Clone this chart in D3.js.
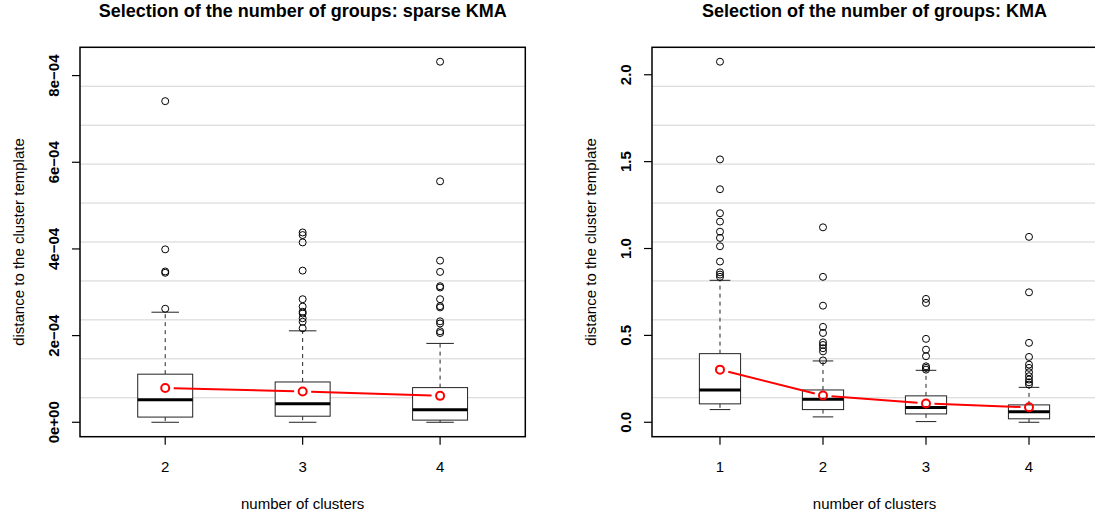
<!DOCTYPE html>
<html>
<head>
<meta charset="utf-8">
<script src="https://cdn.jsdelivr.net/npm/d3@7"></script>
<style>
  body { margin: 0; background: #fff; }
  svg { font-family: "Liberation Sans", Arial, sans-serif; }
</style>
</head>
<body>
<svg id="chart" width="1095" height="519"></svg>
<script>
// ---- data: sparse KMA (left panel) ----
const sparseGroups = ["2", "3", "4"];
const sparseLow    = [0, 0, 0];
const sparseQ1     = [1.2e-5, 1.4e-5, 5e-6];
const sparseMedian = [5.2e-5, 4.3e-5, 2.9e-5];
const sparseQ3     = [1.11e-4, 9.3e-5, 8.0e-5];
const sparseHigh   = [2.54e-4, 2.11e-4, 1.82e-4];
const sparseMean   = [7.9e-5, 7.1e-5, 6.1e-5];
const sparseOut = [
  [2.62e-4, 3.45e-4, 3.48e-4, 3.99e-4, 7.41e-4],
  [2.17e-4, 2.32e-4, 2.40e-4, 2.51e-4, 2.55e-4, 2.67e-4, 2.84e-4, 3.50e-4, 4.15e-4, 4.32e-4, 4.38e-4],
  [2.06e-4, 2.10e-4, 2.28e-4, 2.33e-4, 2.65e-4, 2.68e-4, 2.84e-4, 3.11e-4, 3.14e-4, 3.47e-4, 3.73e-4, 5.56e-4, 8.32e-4]
];
const sparseTicks  = [0, 2e-4, 4e-4, 6e-4, 8e-4];
const sparseLabels = ["0e+00", "2e\u221204", "4e\u221204", "6e\u221204", "8e\u221204"];

// ---- data: KMA (right panel) ----
const kmaGroups = ["1", "2", "3", "4"];
const kmaLow    = [0.073, 0.031, 0.004, 0.0];
const kmaQ1     = [0.106, 0.073, 0.048, 0.020];
const kmaMedian = [0.186, 0.132, 0.085, 0.060];
const kmaQ3     = [0.395, 0.186, 0.152, 0.100];
const kmaHigh   = [0.817, 0.353, 0.299, 0.201];
const kmaMean   = [0.303, 0.154, 0.108, 0.086];
const kmaOut = [
  [0.837, 0.850, 0.863, 0.925, 1.013, 1.061, 1.097, 1.155, 1.203, 1.341, 1.513, 2.075],
  [0.356, 0.408, 0.426, 0.445, 0.460, 0.514, 0.549, 0.671, 0.837, 1.122],
  [0.303, 0.313, 0.322, 0.380, 0.418, 0.480, 0.687, 0.710],
  [0.217, 0.230, 0.246, 0.265, 0.288, 0.313, 0.332, 0.376, 0.457, 0.748, 1.067]
];
const kmaTicks  = [0, 0.5, 1.0, 1.5, 2.0];
const kmaLabels = ["0.0", "0.5", "1.0", "1.5", "2.0"];

const svg = d3.select("#chart");
const TOP = 47.3, BOTTOM = 436.7;

function drawPanel(opts) {
  const n = opts.groups.length;
  const g = svg.append("g");

  // R-style 4% axis expansion on both ends
  const x = d3.scaleLinear()
    .domain([0.5 - 0.04 * n, n + 0.5 + 0.04 * n])
    .range([opts.left, opts.right]);
  const allVals = opts.low.concat(opts.high, opts.out.flat());
  const lo = d3.min(allVals), hi = d3.max(allVals);
  const pad = (hi - lo) * 0.04;
  const y = d3.scaleLinear().domain([lo - pad, hi + pad]).range([BOTTOM, TOP]);

  // grid: 10 equal divisions of the plot height
  const gridYs = d3.range(1, 10).map(i => TOP + (BOTTOM - TOP) * i / 10);
  g.selectAll("line.grid").data(gridYs).join("line")
    .attr("class", "grid")
    .attr("x1", opts.left).attr("x2", opts.right)
    .attr("y1", d => d).attr("y2", d => d)
    .attr("stroke", "#d3d3d3").attr("stroke-width", 1);

  const idx = d3.range(n);
  const bw = 0.2;    // box half width in x units
  const cw = 0.1;    // whisker cap half width

  // whiskers (dashed)
  g.selectAll("line.wup").data(idx).join("line")
    .attr("x1", i => x(i + 1)).attr("x2", i => x(i + 1))
    .attr("y1", i => y(opts.q3[i])).attr("y2", i => y(opts.high[i]))
    .attr("stroke", "#222").attr("stroke-dasharray", "4,4");
  g.selectAll("line.wdn").data(idx).join("line")
    .attr("x1", i => x(i + 1)).attr("x2", i => x(i + 1))
    .attr("y1", i => y(opts.q1[i])).attr("y2", i => y(opts.low[i]))
    .attr("stroke", "#222").attr("stroke-dasharray", "4,4");

  // caps
  ["high", "low"].forEach(k => {
    g.selectAll("line.cap" + k).data(idx).join("line")
      .attr("x1", i => x(i + 1 - cw)).attr("x2", i => x(i + 1 + cw))
      .attr("y1", i => y(opts[k][i])).attr("y2", i => y(opts[k][i]))
      .attr("stroke", "#222");
  });

  // boxes
  g.selectAll("rect.box").data(idx).join("rect")
    .attr("x", i => x(i + 1 - bw))
    .attr("width", i => x(i + 1 + bw) - x(i + 1 - bw))
    .attr("y", i => y(opts.q3[i]))
    .attr("height", i => y(opts.q1[i]) - y(opts.q3[i]))
    .attr("fill", "white").attr("stroke", "#222");

  // medians
  g.selectAll("line.med").data(idx).join("line")
    .attr("x1", i => x(i + 1 - bw)).attr("x2", i => x(i + 1 + bw))
    .attr("y1", i => y(opts.median[i])).attr("y2", i => y(opts.median[i]))
    .attr("stroke", "black").attr("stroke-width", 3);

  // outliers
  const outPts = opts.out.flatMap((arr, i) => arr.map(v => [i, v]));
  g.selectAll("circle.out").data(outPts).join("circle")
    .attr("cx", d => x(d[0] + 1)).attr("cy", d => y(d[1]))
    .attr("r", 3.5).attr("fill", "none").attr("stroke", "black");

  // mean line, type = "b" (gaps around points)
  const gap = 8.5;
  const segs = d3.range(n - 1).map(i => {
    const x1 = x(i + 1), y1 = y(opts.mean[i]), x2 = x(i + 2), y2 = y(opts.mean[i + 1]);
    const len = Math.hypot(x2 - x1, y2 - y1), ux = (x2 - x1) / len, uy = (y2 - y1) / len;
    return [x1 + ux * gap, y1 + uy * gap, x2 - ux * gap, y2 - uy * gap];
  });
  g.selectAll("line.meanseg").data(segs).join("line")
    .attr("x1", d => d[0]).attr("y1", d => d[1]).attr("x2", d => d[2]).attr("y2", d => d[3])
    .attr("stroke", "red").attr("stroke-width", 2);
  g.selectAll("circle.mean").data(idx).join("circle")
    .attr("cx", i => x(i + 1)).attr("cy", i => y(opts.mean[i]))
    .attr("r", 4).attr("fill", "none").attr("stroke", "red").attr("stroke-width", 2);

  // frame
  g.append("rect")
    .attr("x", opts.left).attr("y", TOP)
    .attr("width", opts.right - opts.left).attr("height", BOTTOM - TOP)
    .attr("fill", "none").attr("stroke", "black").attr("stroke-width", 1.5);

  // y axis
  g.selectAll("line.ytick").data(opts.ticks).join("line")
    .attr("x1", opts.left - 8).attr("x2", opts.left)
    .attr("y1", d => y(d)).attr("y2", d => y(d))
    .attr("stroke", "black").attr("stroke-width", 1.2);
  g.selectAll("text.ylab").data(opts.ticks).join("text")
    .attr("transform", (d) => `translate(${opts.left - 21},${y(d)}) rotate(-90)`)
    .attr("text-anchor", "middle")
    .attr("font-size", 15).attr("font-weight", "bold")
    .text((d, i) => opts.tickLabels[i]);

  // x axis
  g.selectAll("line.xtick").data(idx).join("line")
    .attr("x1", i => x(i + 1)).attr("x2", i => x(i + 1))
    .attr("y1", BOTTOM).attr("y2", BOTTOM + 8)
    .attr("stroke", "black").attr("stroke-width", 1.2);
  g.selectAll("text.xlab").data(idx).join("text")
    .attr("x", i => x(i + 1)).attr("y", 472)
    .attr("text-anchor", "middle").attr("font-size", 15)
    .text(i => opts.groups[i]);

  // axis titles
  const cx = (opts.left + opts.right) / 2;
  g.append("text")
    .attr("x", cx).attr("y", 509)
    .attr("text-anchor", "middle").attr("font-size", 15)
    .text("number of clusters");
  g.append("text")
    .attr("transform", `translate(${opts.left - 56},${(TOP + BOTTOM) / 2}) rotate(-90)`)
    .attr("text-anchor", "middle").attr("font-size", 15)
    .text("distance to the cluster template");
  g.append("text")
    .attr("x", cx).attr("y", 17)
    .attr("text-anchor", "middle").attr("font-size", 18).attr("font-weight", "bold")
    .text(opts.title);
}

drawPanel({
  left: 80, right: 525.3,
  groups: sparseGroups, low: sparseLow, q1: sparseQ1, median: sparseMedian,
  q3: sparseQ3, high: sparseHigh, mean: sparseMean, out: sparseOut,
  ticks: sparseTicks, tickLabels: sparseLabels,
  title: "Selection of the number of groups: sparse KMA"
});

drawPanel({
  left: 652, right: 1097,
  groups: kmaGroups, low: kmaLow, q1: kmaQ1, median: kmaMedian,
  q3: kmaQ3, high: kmaHigh, mean: kmaMean, out: kmaOut,
  ticks: kmaTicks, tickLabels: kmaLabels,
  title: "Selection of the number of groups: KMA"
});
</script>
</body>
</html>
